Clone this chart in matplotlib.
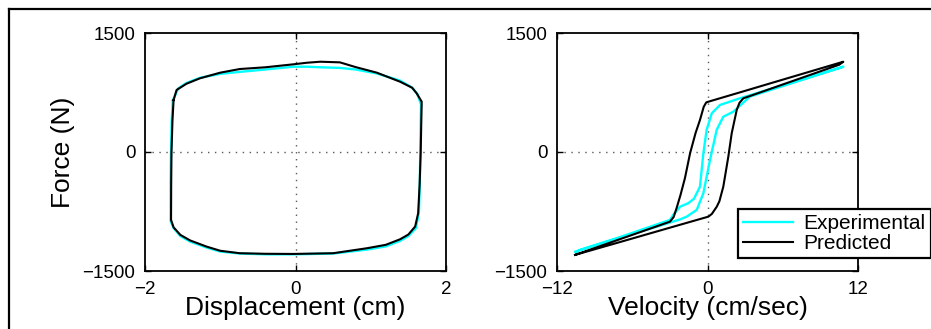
import matplotlib.pyplot as plt
from matplotlib.lines import Line2D

plt.rcParams['font.family'] = ['Liberation Sans', 'DejaVu Sans']

# force / displacement loop (cm, N)
pred_disp = [-1.62, -1.58, -1.45, -1.27, -1.0, -0.74, -0.40, -0.03, 0.15, 0.33, 0.59, 0.80,
             1.08, 1.39, 1.55, 1.61, 1.677, 1.67, 1.664, 1.65, 1.63, 1.59, 1.50, 1.39, 1.20,
             0.95, 0.50, -0.03, -0.40, -0.74, -1.00, -1.18, -1.40, -1.53, -1.62, -1.654,
             -1.652, -1.648, -1.635, -1.62]
pred_force_disp = [656, 782, 860, 929, 1000, 1046, 1068, 1105, 1125, 1138, 1130, 1070,
                   1000, 886, 810, 740, 634, 300, 0, -400, -772, -940, -1040, -1100, -1170,
                   -1213, -1276, -1285, -1283, -1276, -1245, -1193, -1115, -1045, -950, -856,
                   -400, 0, 400, 656]

exp_disp = [-1.63, -1.56, -1.45, -1.27, -1.0, -0.74, -0.40, -0.03, 0.15, 0.33, 0.59, 0.80,
            1.08, 1.39, 1.55, 1.62, 1.668, 1.662, 1.658, 1.652, 1.64, 1.60, 1.50, 1.39, 1.20,
            0.95, 0.50, -0.03, -0.40, -0.74, -1.00, -1.18, -1.40, -1.53, -1.62, -1.66,
            -1.66, -1.655, -1.645, -1.63]
exp_force_disp = [650, 800, 870, 935, 985, 1010, 1040, 1075, 1075, 1068, 1060, 1040,
                  990, 900, 810, 730, 600, 300, 0, -400, -760, -960, -1060, -1120, -1190,
                  -1230, -1280, -1290, -1290, -1280, -1255, -1205, -1130, -1060, -960, -870,
                  -400, 0, 400, 650]

# force / velocity loop (cm/sec, N)
pred_vel = [-10.56, -7.0, -4.0, -2.99, -2.7, -2.45, -2.15, -1.8, -1.39, -0.95, -0.60, -0.30,
            -0.10, 0.07, 3.0, 6.0, 10.83, 10.5, 6.0, 3.39, 2.86, 2.55, 2.33, 1.93, 1.66, 1.26,
            0.95, 0.74, 0.35, 0.07, -3.0, -7.0, -10.56]
pred_force_vel = [-1297, -1100, -934, -878, -820, -700, -540, -330, -16, 240, 404, 570,
                  625, 634, 771, 912, 1138, 1100, 851, 706, 677, 620, 530, 236, -59, -437,
                  -620, -689, -780, -815, -954, -1136, -1297]

exp_vel = [-10.48, -10.17, -7.0, -4.0, -2.99, -2.72, -2.19, -1.53, -1.08, -0.60, -0.33,
           -0.07, 0.34, 1.0, 2.59, 5.0, 8.0, 10.83, 8.0, 5.0, 3.39, 2.06, 1.26, 0.73, 0.2,
           -0.33, -0.86, -1.66, -2.19, -4.0, -7.0, -10.56, -10.48]
exp_force_vel = [-1264, -1234, -1074, -911, -856, -790, -690, -645, -590, -437, -16,
                 278, 488, 593, 677, 793, 938, 1075, 932, 781, 700, 508, 445, 278, -100,
                 -520, -730, -815, -850, -938, -1083, -1256, -1264]

fig = plt.figure(figsize=(9.31, 3.29), dpi=100)
ax1 = fig.add_axes([145 / 931, 1 - 271 / 329, 301 / 931, 238 / 329])
ax2 = fig.add_axes([557 / 931, 1 - 271 / 329, 301 / 931, 238 / 329])

for ax in (ax1, ax2):
    ax.axhline(0, color='0.35', ls=(0, (1, 4)), lw=1.0, zorder=1)
    ax.axvline(0, color='0.35', ls=(0, (1, 4)), lw=1.0, zorder=1)
    ax.set_ylim(-1500, 1500)
    ax.set_yticks([-1500, 0, 1500])
    ax.tick_params(direction='in', length=4, width=1, top=True, right=True,
                   labelsize=13.5, pad=7)
    for sp in ax.spines.values():
        sp.set_linewidth(1.3)

ax1.plot(exp_disp, exp_force_disp, color='cyan', lw=1.7, label='Experimental')
ax1.plot(pred_disp, pred_force_disp, color='black', lw=1.5, label='Predicted')
ax1.set_xlim(-2, 2)
ax1.set_xticks([-2, 0, 2])
ax1.set_xlabel('Displacement (cm)', fontsize=19, labelpad=-1)
ax1.set_ylabel('Force (N)', fontsize=19, labelpad=5)

ax2.plot(exp_vel, exp_force_vel, color='cyan', lw=1.7, label='Experimental')
ax2.plot(pred_vel, pred_force_vel, color='black', lw=1.5, label='Predicted')
ax2.set_xlim(-12, 12)
ax2.set_xticks([-12, 0, 12])
ax2.set_xlabel('Velocity (cm/sec)', fontsize=19, labelpad=-1)

handles, labels = ax2.get_legend_handles_labels()
leg = fig.legend(handles, labels, loc='upper left',
                 bbox_to_anchor=(738 / 931, 1 - 209 / 329), fontsize=15,
                 frameon=True, fancybox=False, borderpad=0.25, labelspacing=0.05,
                 handlelength=2.4, handletextpad=0.5, borderaxespad=0)
leg.get_frame().set_edgecolor('black')
leg.get_frame().set_linewidth(1.6)
leg.get_frame().set_alpha(1)

# outer frame of the figure panel
fig.add_artist(Line2D([8.5 / 931, 8.5 / 931], [0, 1 - 8.5 / 329], color='black', lw=1.6,
                      transform=fig.transFigure))
fig.add_artist(Line2D([8.5 / 931, 1], [1 - 8.5 / 329, 1 - 8.5 / 329], color='black', lw=1.6,
                      transform=fig.transFigure))

fig.savefig('out.png', dpi=100)
